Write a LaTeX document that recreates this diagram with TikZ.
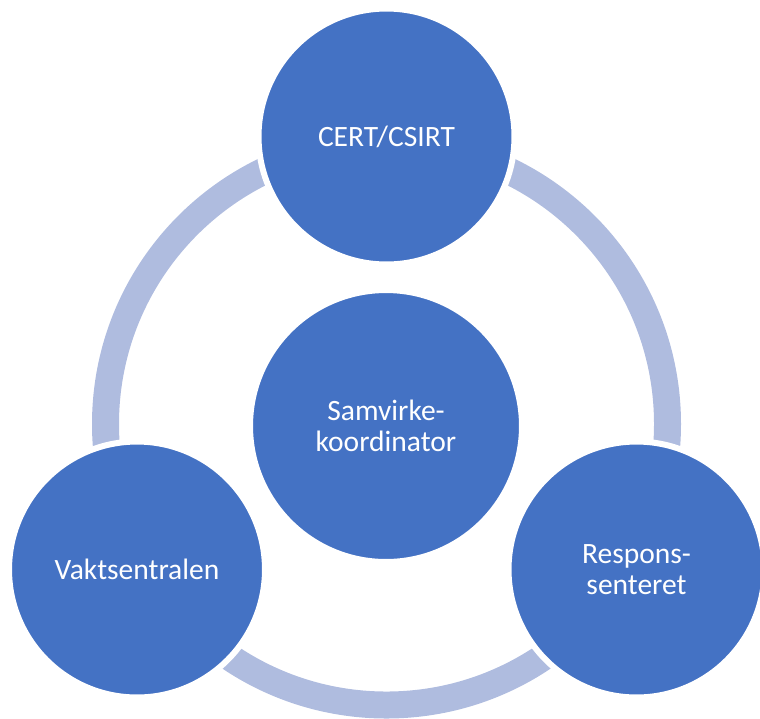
\documentclass[tikz,border=0pt]{standalone}
\usepackage{fontspec}
\setmainfont{Carlito}
\usepackage{tikz}
\usetikzlibrary{positioning}
\definecolor{cblue}{HTML}{4472C4}
\definecolor{cring}{HTML}{AFBCDF}
\tikzstyle{unit} = [circle, fill=cblue, draw=white, line width=0.12cm, minimum size=5.12cm, inner sep=0, align=center, text=white, font=\fontsize{16.8}{17.4}\selectfont]
\tikzstyle{hub} = [unit, minimum size=5.44cm]
\tikzstyle{ring} = [draw=cring, line width=0.54cm]

\begin{document}
\begin{tikzpicture}[x=0.02cm, y=-0.02cm]
\useasboundingbox (0, 0) rectangle (760, 718);
\coordinate (O) at (386.5, 424);
\draw [ring] (O) circle (281);
\node [unit] (C) at (386.5, 136.5) {CERT/CSIRT};
\node [unit] (V) at (137, 569.5) {Vaktsentralen};
\node [unit] (R) at (636.5, 569.5) {Respons-\\senteret};
\node [hub]  (S) at (386, 426) {Samvirke-\\koordinator};
\end{tikzpicture}
\end{document}
